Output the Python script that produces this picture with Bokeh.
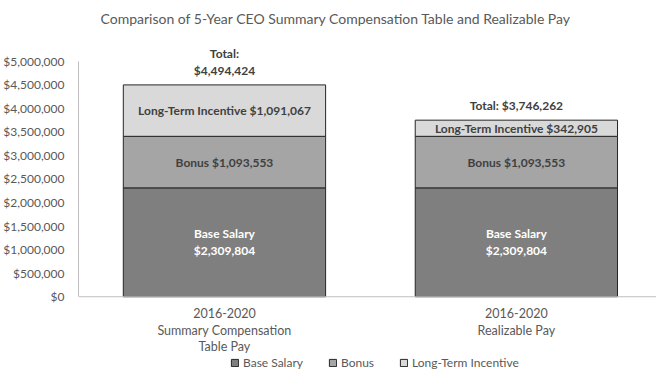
from bokeh.plotting import figure
from bokeh.models import (ColumnDataSource, Range1d, FixedTicker, NumeralTickFormatter,
                          Legend, LegendItem, Span)
from bokeh.core.properties import value
from bokeh.embed import file_html
from bokeh.resources import INLINE

# ---- data ----
title_text = "Comparison of 5-Year CEO Summary Compensation Table and Realizable Pay"
categories = ["2016-2020\nSummary Compensation\nTable Pay", "2016-2020\nRealizable Pay"]
series_names = ["Base Salary", "Bonus", "Long-Term Incentive"]
base_salary = [2309804, 2309804]
bonus = [1093553, 1093553]
long_term_incentive = [1091067, 342905]
total_separators = ["\n", " "]
y_ticks = [0, 500000, 1000000, 1500000, 2000000, 2500000, 3000000, 3500000, 4000000, 4500000, 5000000]

# ---- styling ----
FONT = "Lato"
colors = ["#7f7f7f", "#a5a5a5", "#d9d9d9"]
text_dark = "#404040"
text_gray = "#595959"

xs = [i + 0.5 for i in range(len(categories))]
totals = [a + b + c for a, b, c in zip(base_salary, bonus, long_term_incentive)]

source = ColumnDataSource(dict(x=xs, base=base_salary, bonus=bonus, lti=long_term_incentive))

# frame spans the plot area and the category-label/legend strip below it
p = figure(width=656, height=370, output_backend="svg", toolbar_location=None,
           x_range=Range1d(0, 1.98), y_range=Range1d(-1565000, 5500000),
           x_axis_location=None,
           min_border_left=68, min_border_right=0, min_border_top=36, min_border_bottom=0)
p.outline_line_color = None
p.xgrid.visible = False
p.ygrid.visible = False
p.background_fill_color = "white"
p.border_fill_color = "white"

p.title.text = title_text
p.title.align = "left"
p.title.offset = 22
p.title.vertical_align = "top"
p.title.standoff = 18
p.title.text_font = FONT
p.title.text_font_size = "14px"
p.title.text_font_style = "normal"
p.title.text_color = text_gray

renderers = p.vbar_stack(["base", "bonus", "lti"], x="x", width=0.693, source=source,
                         fill_color=colors, line_color="#262626", line_width=1)

# y axis
ya = p.yaxis[0]
ya.ticker = FixedTicker(ticks=y_ticks)
ya.bounds = (y_ticks[0], y_ticks[-1])
ya.formatter = NumeralTickFormatter(format="$0,0")
ya.major_tick_line_color = None
ya.minor_tick_line_color = None
ya.axis_line_color = "#bfbfbf"
ya.major_label_text_font = FONT
ya.major_label_text_font_size = "12px"
ya.major_label_text_color = text_gray
ya.major_label_standoff = 8

# x baseline and category labels
p.add_layout(Span(location=0, dimension="width", line_color="#bfbfbf", line_width=1))
cat_src = ColumnDataSource(dict(x=xs, y=[0] * len(xs), t=categories))
p.text(x="x", y="y", text="t", source=cat_src, text_align="center", text_baseline="top",
       y_offset=9, text_font=value(FONT), text_font_size="12.5px",
       text_color=text_gray, text_line_height=1.12)

# segment labels
base_mid = [b / 2 for b in base_salary]
bonus_mid = [b + bo / 2 for b, bo in zip(base_salary, bonus)]
lti_mid = [b + bo + l / 2 for b, bo, l in zip(base_salary, bonus, long_term_incentive)]

lab_base = ColumnDataSource(dict(x=xs, y=base_mid,
                                 t=[f"{series_names[0]}\n${v:,}" for v in base_salary]))
lab_dark = ColumnDataSource(dict(x=xs + xs, y=bonus_mid + lti_mid,
                                 t=[f"{series_names[1]} ${v:,}" for v in bonus] +
                                   [f"{series_names[2]} ${v:,}" for v in long_term_incentive]))
lab_tot = ColumnDataSource(dict(x=xs, y=totals,
                                t=[f"Total:{s}${v:,}" for s, v in zip(total_separators, totals)]))

common = dict(text_align="center", text_font=value(FONT), text_font_style="bold",
              text_font_size="12px", text_line_height=1.15)
p.text(x="x", y="y", text="t", source=lab_base, text_color="white",
       text_baseline="middle", **common)
p.text(x="x", y="y", text="t", source=lab_dark, text_color=text_dark,
       text_baseline="middle", **common)
p.text(x="x", y="y", text="t", source=lab_tot, text_color=text_dark,
       text_baseline="bottom", y_offset=-7, **common)

# legend
legend = Legend(items=[LegendItem(label=n, renderers=[r]) for n, r in zip(series_names, renderers)],
                orientation="horizontal", location=(152, 0),
                glyph_width=9, glyph_height=9, label_text_font=FONT,
                label_text_font_size="12px", label_text_color=text_gray,
                spacing=25, padding=0, margin=0, label_standoff=4, label_height=12,
                background_fill_alpha=0, border_line_color=None)
p.add_layout(legend, "center")

open("out.html", "w").write(file_html(p, INLINE))
